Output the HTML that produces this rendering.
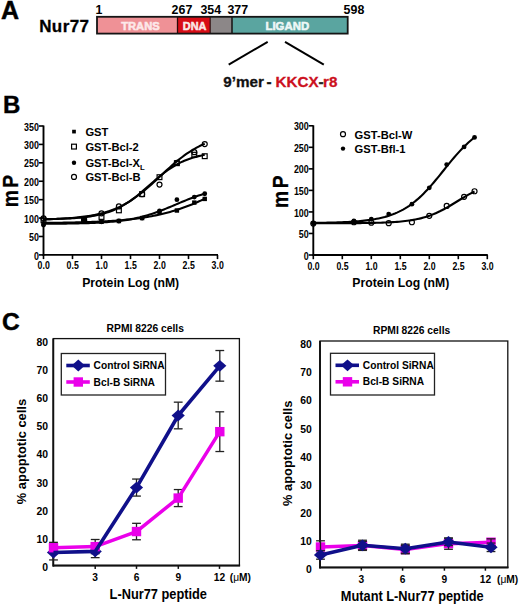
<!DOCTYPE html>
<html><head><meta charset="utf-8"><style>
html,body{margin:0;padding:0;background:#fff;}
svg{display:block;}
text{font-family:"Liberation Sans", sans-serif;}
</style></head><body>
<svg width="520" height="607" viewBox="0 0 520 607">
<rect width="520" height="607" fill="#fff"/>
<text x="0.90" y="19.30" font-size="25.0" fill="#000" text-anchor="start" font-weight="bold" stroke="#000" stroke-width="0.45">A</text>
<text x="39.20" y="32.20" font-size="17.0" fill="#000" text-anchor="start" font-weight="bold" letter-spacing="0.4" stroke="#000" stroke-width="0.3">Nur77</text>
<rect x="97.00" y="16.80" width="80.20" height="16.80" fill="#ef9196" stroke="none" stroke-width="1" />
<rect x="177.20" y="16.80" width="33.00" height="16.80" fill="#d80d16" stroke="none" stroke-width="1" />
<rect x="210.20" y="16.80" width="21.80" height="16.80" fill="#8c8788" stroke="none" stroke-width="1" />
<rect x="232.00" y="16.80" width="115.70" height="16.80" fill="#5aa5a0" stroke="none" stroke-width="1" />
<line x1="177.50" y1="16.80" x2="177.50" y2="33.60" stroke="#2a0a0a" stroke-width="1.3" />
<line x1="210.20" y1="16.80" x2="210.20" y2="33.60" stroke="#301010" stroke-width="1.2" />
<line x1="232.00" y1="16.80" x2="232.00" y2="33.60" stroke="#202020" stroke-width="1.7" />
<rect x="97.00" y="16.80" width="250.70" height="16.80" fill="none" stroke="#151515" stroke-width="1.8" />
<text x="121.20" y="29.90" font-size="11.2" fill="#fde8e9" text-anchor="start" font-weight="bold" stroke="#fde8e9" stroke-width="0.55">TRANS</text>
<text x="182.80" y="29.60" font-size="10.9" fill="#fbe9e9" text-anchor="start" font-weight="bold" stroke="#fbe9e9" stroke-width="0.5">DNA</text>
<text x="265.50" y="30.30" font-size="11.4" fill="#eef8f7" text-anchor="start" font-weight="bold" stroke="#eef8f7" stroke-width="0.55">LIGAND</text>
<text x="95.60" y="13.70" font-size="12.4" fill="#000" text-anchor="start" font-weight="bold" >1</text>
<text x="171.60" y="13.70" font-size="12.4" fill="#000" text-anchor="start" font-weight="bold" >267</text>
<text x="200.40" y="13.70" font-size="12.4" fill="#000" text-anchor="start" font-weight="bold" >354</text>
<text x="227.40" y="13.70" font-size="12.4" fill="#000" text-anchor="start" font-weight="bold" >377</text>
<text x="343.60" y="13.70" font-size="12.4" fill="#000" text-anchor="start" font-weight="bold" >598</text>
<line x1="228.70" y1="64.60" x2="267.70" y2="41.90" stroke="#000" stroke-width="2.0" />
<line x1="285.00" y1="41.90" x2="323.80" y2="64.60" stroke="#000" stroke-width="2.0" />
<text y="86.5" font-size="15.2" font-weight="bold" stroke-width="0.3"><tspan x="223.3" fill="#111" stroke="#111" textLength="40.6" lengthAdjust="spacingAndGlyphs">9’mer</tspan><tspan x="266.4" fill="#111" stroke="#111">-</tspan><tspan x="275.6" fill="#cc1020" stroke="#cc1020">KKCX</tspan><tspan x="318.6" fill="#222" stroke="#222">-</tspan><tspan x="323.0" fill="#cc1020" stroke="#cc1020">r8</tspan></text>
<text x="3.00" y="113.40" font-size="24.0" fill="#000" text-anchor="start" font-weight="bold" stroke="#000" stroke-width="0.4">B</text>
<line x1="43.50" y1="125.50" x2="43.50" y2="255.80" stroke="#000" stroke-width="1.9" />
<line x1="42.60" y1="254.90" x2="218.00" y2="254.90" stroke="#000" stroke-width="1.9" />
<line x1="38.90" y1="254.90" x2="43.50" y2="254.90" stroke="#000" stroke-width="1.6" />
<text x="0" y="0" transform="translate(38.90,259.50) scale(0.87,1)" font-size="10.2" fill="#000" text-anchor="end" font-weight="bold" >0</text>
<line x1="38.90" y1="236.49" x2="43.50" y2="236.49" stroke="#000" stroke-width="1.6" />
<text x="0" y="0" transform="translate(38.90,241.09) scale(0.87,1)" font-size="10.2" fill="#000" text-anchor="end" font-weight="bold" >50</text>
<line x1="38.90" y1="218.07" x2="43.50" y2="218.07" stroke="#000" stroke-width="1.6" />
<text x="0" y="0" transform="translate(38.90,222.67) scale(0.87,1)" font-size="10.2" fill="#000" text-anchor="end" font-weight="bold" >100</text>
<line x1="38.90" y1="199.66" x2="43.50" y2="199.66" stroke="#000" stroke-width="1.6" />
<text x="0" y="0" transform="translate(38.90,204.25) scale(0.87,1)" font-size="10.2" fill="#000" text-anchor="end" font-weight="bold" >150</text>
<line x1="38.90" y1="181.24" x2="43.50" y2="181.24" stroke="#000" stroke-width="1.6" />
<text x="0" y="0" transform="translate(38.90,185.84) scale(0.87,1)" font-size="10.2" fill="#000" text-anchor="end" font-weight="bold" >200</text>
<line x1="38.90" y1="162.82" x2="43.50" y2="162.82" stroke="#000" stroke-width="1.6" />
<text x="0" y="0" transform="translate(38.90,167.42) scale(0.87,1)" font-size="10.2" fill="#000" text-anchor="end" font-weight="bold" >250</text>
<line x1="38.90" y1="144.41" x2="43.50" y2="144.41" stroke="#000" stroke-width="1.6" />
<text x="0" y="0" transform="translate(38.90,149.01) scale(0.87,1)" font-size="10.2" fill="#000" text-anchor="end" font-weight="bold" >300</text>
<line x1="38.90" y1="126.00" x2="43.50" y2="126.00" stroke="#000" stroke-width="1.6" />
<text x="0" y="0" transform="translate(38.90,130.59) scale(0.87,1)" font-size="10.2" fill="#000" text-anchor="end" font-weight="bold" >350</text>
<line x1="43.50" y1="254.90" x2="43.50" y2="259.10" stroke="#000" stroke-width="1.6" />
<text x="0" y="0" transform="translate(43.70,269.40) scale(0.85,1)" font-size="10.3" fill="#000" text-anchor="middle" font-weight="bold" >0.0</text>
<line x1="72.50" y1="254.90" x2="72.50" y2="259.10" stroke="#000" stroke-width="1.6" />
<text x="0" y="0" transform="translate(72.70,269.40) scale(0.85,1)" font-size="10.3" fill="#000" text-anchor="middle" font-weight="bold" >0.5</text>
<line x1="101.50" y1="254.90" x2="101.50" y2="259.10" stroke="#000" stroke-width="1.6" />
<text x="0" y="0" transform="translate(101.70,269.40) scale(0.85,1)" font-size="10.3" fill="#000" text-anchor="middle" font-weight="bold" >1.0</text>
<line x1="130.50" y1="254.90" x2="130.50" y2="259.10" stroke="#000" stroke-width="1.6" />
<text x="0" y="0" transform="translate(130.70,269.40) scale(0.85,1)" font-size="10.3" fill="#000" text-anchor="middle" font-weight="bold" >1.5</text>
<line x1="159.50" y1="254.90" x2="159.50" y2="259.10" stroke="#000" stroke-width="1.6" />
<text x="0" y="0" transform="translate(159.70,269.40) scale(0.85,1)" font-size="10.3" fill="#000" text-anchor="middle" font-weight="bold" >2.0</text>
<line x1="188.50" y1="254.90" x2="188.50" y2="259.10" stroke="#000" stroke-width="1.6" />
<text x="0" y="0" transform="translate(188.70,269.40) scale(0.85,1)" font-size="10.3" fill="#000" text-anchor="middle" font-weight="bold" >2.5</text>
<line x1="217.50" y1="254.90" x2="217.50" y2="259.10" stroke="#000" stroke-width="1.6" />
<text x="0" y="0" transform="translate(217.70,269.40) scale(0.85,1)" font-size="10.3" fill="#000" text-anchor="middle" font-weight="bold" >3.0</text>
<polyline points="43.50,222.91 45.54,222.89 47.58,222.87 49.62,222.84 51.66,222.82 53.71,222.80 55.75,222.77 57.79,222.74 59.83,222.71 61.87,222.68 63.91,222.65 65.95,222.61 67.99,222.58 70.03,222.54 72.07,222.49 74.12,222.45 76.16,222.40 78.20,222.35 80.24,222.30 82.28,222.24 84.32,222.18 86.36,222.12 88.40,222.05 90.44,221.98 92.48,221.90 94.53,221.82 96.57,221.74 98.61,221.65 100.65,221.55 102.69,221.45 104.73,221.34 106.77,221.23 108.81,221.10 110.85,220.98 112.89,220.84 114.94,220.70 116.98,220.55 119.02,220.39 121.06,220.22 123.10,220.04 125.14,219.85 127.18,219.65 129.22,219.43 131.26,219.21 133.30,218.98 135.35,218.73 137.39,218.47 139.43,218.19 141.47,217.90 143.51,217.59 145.55,217.27 147.59,216.93 149.63,216.58 151.67,216.20 153.71,215.81 155.76,215.40 157.80,214.97 159.84,214.51 161.88,214.04 163.92,213.55 165.96,213.03 168.00,212.49 170.04,211.93 172.08,211.34 174.12,210.73 176.17,210.10 178.21,209.44 180.25,208.76 182.29,208.05 184.33,207.32 186.37,206.57 188.41,205.79 190.45,204.98 192.49,204.16 194.53,203.31 196.58,202.44 198.62,201.54 200.66,200.63 202.70,199.70 204.74,198.74" fill="none" stroke="#000" stroke-width="2.1" />
<polyline points="43.50,223.76 45.54,223.75 47.58,223.74 49.62,223.73 51.66,223.71 53.71,223.70 55.75,223.68 57.79,223.67 59.83,223.65 61.87,223.63 63.91,223.60 65.95,223.58 67.99,223.55 70.03,223.52 72.07,223.49 74.12,223.45 76.16,223.41 78.20,223.37 80.24,223.32 82.28,223.27 84.32,223.21 86.36,223.15 88.40,223.08 90.44,223.01 92.48,222.93 94.53,222.84 96.57,222.75 98.61,222.65 100.65,222.53 102.69,222.41 104.73,222.28 106.77,222.13 108.81,221.98 110.85,221.81 112.89,221.62 114.94,221.42 116.98,221.21 119.02,220.97 121.06,220.72 123.10,220.45 125.14,220.16 127.18,219.84 129.22,219.50 131.26,219.14 133.30,218.75 135.35,218.33 137.39,217.89 139.43,217.41 141.47,216.91 143.51,216.38 145.55,215.82 147.59,215.23 149.63,214.60 151.67,213.95 153.71,213.27 155.76,212.56 157.80,211.82 159.84,211.06 161.88,210.28 163.92,209.47 165.96,208.65 168.00,207.81 170.04,206.96 172.08,206.10 174.12,205.23 176.17,204.36 178.21,203.50 180.25,202.64 182.29,201.78 184.33,200.94 186.37,200.12 188.41,199.31 190.45,198.52 192.49,197.76 194.53,197.02 196.58,196.30 198.62,195.62 200.66,194.96 202.70,194.34 204.74,193.74" fill="none" stroke="#000" stroke-width="2.1" />
<polyline points="43.50,219.19 45.54,219.16 47.58,219.12 49.62,219.08 51.66,219.04 53.71,218.99 55.75,218.94 57.79,218.88 59.83,218.81 61.87,218.74 63.91,218.66 65.95,218.57 67.99,218.47 70.03,218.35 72.07,218.23 74.12,218.10 76.16,217.95 78.20,217.78 80.24,217.60 82.28,217.39 84.32,217.17 86.36,216.92 88.40,216.65 90.44,216.35 92.48,216.02 94.53,215.65 96.57,215.26 98.61,214.82 100.65,214.34 102.69,213.82 104.73,213.24 106.77,212.62 108.81,211.94 110.85,211.21 112.89,210.41 114.94,209.55 116.98,208.62 119.02,207.63 121.06,206.56 123.10,205.42 125.14,204.21 127.18,202.92 129.22,201.57 131.26,200.14 133.30,198.65 135.35,197.09 137.39,195.48 139.43,193.82 141.47,192.11 143.51,190.36 145.55,188.59 147.59,186.80 149.63,185.00 151.67,183.21 153.71,181.42 155.76,179.66 157.80,177.93 159.84,176.23 161.88,174.59 163.92,172.99 165.96,171.46 168.00,169.99 170.04,168.58 172.08,167.25 174.12,165.99 176.17,164.80 178.21,163.69 180.25,162.65 182.29,161.67 184.33,160.77 186.37,159.93 188.41,159.15 190.45,158.44 192.49,157.78 194.53,157.17 196.58,156.62 198.62,156.11 200.66,155.65 202.70,155.22 204.74,154.84" fill="none" stroke="#000" stroke-width="2.1" />
<polyline points="43.50,219.35 45.54,219.30 47.58,219.24 49.62,219.17 51.66,219.10 53.71,219.03 55.75,218.94 57.79,218.85 59.83,218.76 61.87,218.65 63.91,218.53 65.95,218.41 67.99,218.27 70.03,218.12 72.07,217.96 74.12,217.78 76.16,217.59 78.20,217.38 80.24,217.16 82.28,216.91 84.32,216.65 86.36,216.36 88.40,216.05 90.44,215.71 92.48,215.35 94.53,214.95 96.57,214.53 98.61,214.07 100.65,213.57 102.69,213.04 104.73,212.46 106.77,211.85 108.81,211.18 110.85,210.47 112.89,209.71 114.94,208.90 116.98,208.03 119.02,207.11 121.06,206.12 123.10,205.08 125.14,203.97 127.18,202.81 129.22,201.57 131.26,200.28 133.30,198.92 135.35,197.50 137.39,196.01 139.43,194.47 141.47,192.87 143.51,191.21 145.55,189.50 147.59,187.75 149.63,185.96 151.67,184.13 153.71,182.27 155.76,180.39 157.80,178.49 159.84,176.59 161.88,174.68 163.92,172.78 165.96,170.88 168.00,169.01 170.04,167.17 172.08,165.35 174.12,163.58 176.17,161.85 178.21,160.16 180.25,158.53 182.29,156.96 184.33,155.44 186.37,153.98 188.41,152.59 190.45,151.26 192.49,149.99 194.53,148.79 196.58,147.65 198.62,146.57 200.66,145.55 202.70,144.60 204.74,143.70" fill="none" stroke="#000" stroke-width="2.1" />
<rect x="41.30" y="221.39" width="4.40" height="4.40" fill="#000" stroke="none" stroke-width="1" />
<rect x="81.90" y="218.82" width="4.40" height="4.40" fill="#000" stroke="none" stroke-width="1" />
<rect x="99.30" y="219.55" width="4.40" height="4.40" fill="#000" stroke="none" stroke-width="1" />
<rect x="116.70" y="218.82" width="4.40" height="4.40" fill="#000" stroke="none" stroke-width="1" />
<rect x="139.90" y="215.87" width="4.40" height="4.40" fill="#000" stroke="none" stroke-width="1" />
<rect x="157.30" y="210.35" width="4.40" height="4.40" fill="#000" stroke="none" stroke-width="1" />
<rect x="174.70" y="208.32" width="4.40" height="4.40" fill="#000" stroke="none" stroke-width="1" />
<rect x="192.10" y="200.40" width="4.40" height="4.40" fill="#000" stroke="none" stroke-width="1" />
<rect x="202.54" y="196.72" width="4.40" height="4.40" fill="#000" stroke="none" stroke-width="1" />
<circle cx="43.50" cy="225.07" r="2.4" fill="#000" stroke="none" stroke-width="1"/>
<circle cx="84.10" cy="221.38" r="2.4" fill="#000" stroke="none" stroke-width="1"/>
<circle cx="101.50" cy="221.75" r="2.4" fill="#000" stroke="none" stroke-width="1"/>
<circle cx="118.90" cy="221.02" r="2.4" fill="#000" stroke="none" stroke-width="1"/>
<circle cx="142.10" cy="218.07" r="2.4" fill="#000" stroke="none" stroke-width="1"/>
<circle cx="159.50" cy="210.89" r="2.4" fill="#000" stroke="none" stroke-width="1"/>
<circle cx="176.90" cy="199.66" r="2.4" fill="#000" stroke="none" stroke-width="1"/>
<circle cx="194.30" cy="197.08" r="2.4" fill="#000" stroke="none" stroke-width="1"/>
<circle cx="204.74" cy="193.76" r="2.4" fill="#000" stroke="none" stroke-width="1"/>
<rect x="41.10" y="217.88" width="4.80" height="4.80" fill="none" stroke="#000" stroke-width="1.2" />
<rect x="81.70" y="218.62" width="4.80" height="4.80" fill="none" stroke="#000" stroke-width="1.2" />
<rect x="99.10" y="214.57" width="4.80" height="4.80" fill="none" stroke="#000" stroke-width="1.2" />
<rect x="116.50" y="207.94" width="4.80" height="4.80" fill="none" stroke="#000" stroke-width="1.2" />
<rect x="139.70" y="191.73" width="4.80" height="4.80" fill="none" stroke="#000" stroke-width="1.2" />
<rect x="157.10" y="174.79" width="4.80" height="4.80" fill="none" stroke="#000" stroke-width="1.2" />
<rect x="174.50" y="160.79" width="4.80" height="4.80" fill="none" stroke="#000" stroke-width="1.2" />
<rect x="191.90" y="152.32" width="4.80" height="4.80" fill="none" stroke="#000" stroke-width="1.2" />
<rect x="202.34" y="153.80" width="4.80" height="4.80" fill="none" stroke="#000" stroke-width="1.2" />
<circle cx="43.50" cy="218.44" r="2.5" fill="none" stroke="#000" stroke-width="1.2"/>
<circle cx="84.10" cy="220.28" r="2.5" fill="none" stroke="#000" stroke-width="1.2"/>
<circle cx="101.50" cy="213.28" r="2.5" fill="none" stroke="#000" stroke-width="1.2"/>
<circle cx="118.90" cy="206.43" r="2.5" fill="none" stroke="#000" stroke-width="1.2"/>
<circle cx="142.10" cy="194.13" r="2.5" fill="none" stroke="#000" stroke-width="1.2"/>
<circle cx="159.50" cy="184.55" r="2.5" fill="none" stroke="#000" stroke-width="1.2"/>
<circle cx="176.90" cy="162.82" r="2.5" fill="none" stroke="#000" stroke-width="1.2"/>
<circle cx="194.30" cy="152.14" r="2.5" fill="none" stroke="#000" stroke-width="1.2"/>
<circle cx="204.74" cy="144.04" r="2.5" fill="none" stroke="#000" stroke-width="1.2"/>
<rect x="72.15" y="129.75" width="3.70" height="3.70" fill="#000" stroke="none" stroke-width="1" />
<text x="0" y="0" transform="translate(85.4,136.0) scale(0.965,1)" font-size="11.6" font-weight="bold">GST</text>
<rect x="71.60" y="144.20" width="4.80" height="4.80" fill="none" stroke="#000" stroke-width="1.2" />
<text x="0" y="0" transform="translate(85.4,151.0) scale(0.965,1)" font-size="11.6" font-weight="bold">GST-Bcl-2</text>
<circle cx="74.00" cy="162.80" r="2.2" fill="#000" stroke="none" stroke-width="1"/>
<text x="0" y="0" transform="translate(85.4,167.2) scale(0.965,1)" font-size="11.6" font-weight="bold">GST-Bcl-X<tspan font-size="8" dy="3">L</tspan></text>
<circle cx="74.00" cy="176.90" r="2.5" fill="none" stroke="#000" stroke-width="1.2"/>
<text x="0" y="0" transform="translate(85.4,181.3) scale(0.965,1)" font-size="11.6" font-weight="bold">GST-Bcl-B</text>
<text x="0" y="0" font-size="22.7" font-weight="bold" letter-spacing="2.9" stroke="#000" stroke-width="0.3" transform="translate(17.8,207.25) rotate(-90) scale(0.85,1)">mP</text>
<text x="0" y="0" font-size="13.5" font-weight="bold" transform="translate(82.2,287.0) scale(0.905,1)">Protein Log (nM)</text>
<line x1="313.30" y1="125.29" x2="313.30" y2="255.90" stroke="#000" stroke-width="1.9" />
<line x1="312.40" y1="255.00" x2="487.80" y2="255.00" stroke="#000" stroke-width="1.9" />
<line x1="308.70" y1="255.00" x2="313.30" y2="255.00" stroke="#000" stroke-width="1.6" />
<text x="0" y="0" transform="translate(308.70,259.60) scale(0.87,1)" font-size="10.2" fill="#000" text-anchor="end" font-weight="bold" >0</text>
<line x1="308.70" y1="233.47" x2="313.30" y2="233.47" stroke="#000" stroke-width="1.6" />
<text x="0" y="0" transform="translate(308.70,238.06) scale(0.87,1)" font-size="10.2" fill="#000" text-anchor="end" font-weight="bold" >50</text>
<line x1="308.70" y1="211.93" x2="313.30" y2="211.93" stroke="#000" stroke-width="1.6" />
<text x="0" y="0" transform="translate(308.70,216.53) scale(0.87,1)" font-size="10.2" fill="#000" text-anchor="end" font-weight="bold" >100</text>
<line x1="308.70" y1="190.39" x2="313.30" y2="190.39" stroke="#000" stroke-width="1.6" />
<text x="0" y="0" transform="translate(308.70,194.99) scale(0.87,1)" font-size="10.2" fill="#000" text-anchor="end" font-weight="bold" >150</text>
<line x1="308.70" y1="168.86" x2="313.30" y2="168.86" stroke="#000" stroke-width="1.6" />
<text x="0" y="0" transform="translate(308.70,173.46) scale(0.87,1)" font-size="10.2" fill="#000" text-anchor="end" font-weight="bold" >200</text>
<line x1="308.70" y1="147.32" x2="313.30" y2="147.32" stroke="#000" stroke-width="1.6" />
<text x="0" y="0" transform="translate(308.70,151.92) scale(0.87,1)" font-size="10.2" fill="#000" text-anchor="end" font-weight="bold" >250</text>
<line x1="308.70" y1="125.79" x2="313.30" y2="125.79" stroke="#000" stroke-width="1.6" />
<text x="0" y="0" transform="translate(308.70,130.39) scale(0.87,1)" font-size="10.2" fill="#000" text-anchor="end" font-weight="bold" >300</text>
<line x1="313.30" y1="255.00" x2="313.30" y2="259.20" stroke="#000" stroke-width="1.6" />
<text x="0" y="0" transform="translate(313.50,269.50) scale(0.85,1)" font-size="10.3" fill="#000" text-anchor="middle" font-weight="bold" >0.0</text>
<line x1="342.30" y1="255.00" x2="342.30" y2="259.20" stroke="#000" stroke-width="1.6" />
<text x="0" y="0" transform="translate(342.50,269.50) scale(0.85,1)" font-size="10.3" fill="#000" text-anchor="middle" font-weight="bold" >0.5</text>
<line x1="371.30" y1="255.00" x2="371.30" y2="259.20" stroke="#000" stroke-width="1.6" />
<text x="0" y="0" transform="translate(371.50,269.50) scale(0.85,1)" font-size="10.3" fill="#000" text-anchor="middle" font-weight="bold" >1.0</text>
<line x1="400.30" y1="255.00" x2="400.30" y2="259.20" stroke="#000" stroke-width="1.6" />
<text x="0" y="0" transform="translate(400.50,269.50) scale(0.85,1)" font-size="10.3" fill="#000" text-anchor="middle" font-weight="bold" >1.5</text>
<line x1="429.30" y1="255.00" x2="429.30" y2="259.20" stroke="#000" stroke-width="1.6" />
<text x="0" y="0" transform="translate(429.50,269.50) scale(0.85,1)" font-size="10.3" fill="#000" text-anchor="middle" font-weight="bold" >2.0</text>
<line x1="458.30" y1="255.00" x2="458.30" y2="259.20" stroke="#000" stroke-width="1.6" />
<text x="0" y="0" transform="translate(458.50,269.50) scale(0.85,1)" font-size="10.3" fill="#000" text-anchor="middle" font-weight="bold" >2.5</text>
<line x1="487.30" y1="255.00" x2="487.30" y2="259.20" stroke="#000" stroke-width="1.6" />
<text x="0" y="0" transform="translate(487.50,269.50) scale(0.85,1)" font-size="10.3" fill="#000" text-anchor="middle" font-weight="bold" >3.0</text>
<polyline points="313.30,223.26 315.34,223.26 317.38,223.26 319.42,223.25 321.46,223.25 323.51,223.25 325.55,223.25 327.59,223.24 329.63,223.24 331.67,223.24 333.71,223.23 335.75,223.23 337.79,223.22 339.83,223.21 341.87,223.21 343.92,223.20 345.96,223.19 348.00,223.18 350.04,223.17 352.08,223.16 354.12,223.14 356.16,223.13 358.20,223.11 360.24,223.09 362.28,223.07 364.33,223.04 366.37,223.01 368.41,222.98 370.45,222.95 372.49,222.91 374.53,222.87 376.57,222.82 378.61,222.76 380.65,222.70 382.69,222.63 384.74,222.55 386.78,222.47 388.82,222.37 390.86,222.26 392.90,222.14 394.94,222.01 396.98,221.86 399.02,221.69 401.06,221.51 403.10,221.30 405.15,221.07 407.19,220.82 409.23,220.54 411.27,220.22 413.31,219.88 415.35,219.50 417.39,219.08 419.43,218.63 421.47,218.13 423.51,217.58 425.56,216.98 427.60,216.34 429.64,215.64 431.68,214.88 433.72,214.07 435.76,213.20 437.80,212.28 439.84,211.31 441.88,210.28 443.92,209.20 445.97,208.08 448.01,206.92 450.05,205.73 452.09,204.51 454.13,203.26 456.17,202.01 458.21,200.75 460.25,199.50 462.29,198.26 464.33,197.05 466.38,195.86 468.42,194.70 470.46,193.59 472.50,192.52 474.54,191.51" fill="none" stroke="#000" stroke-width="2.1" />
<polyline points="313.30,222.85 315.34,222.83 317.38,222.81 319.42,222.78 321.46,222.75 323.51,222.72 325.55,222.68 327.59,222.64 329.63,222.60 331.67,222.55 333.71,222.49 335.75,222.44 337.79,222.37 339.83,222.30 341.87,222.22 343.92,222.14 345.96,222.04 348.00,221.94 350.04,221.83 352.08,221.70 354.12,221.57 356.16,221.42 358.20,221.25 360.24,221.07 362.28,220.87 364.33,220.65 366.37,220.41 368.41,220.15 370.45,219.86 372.49,219.55 374.53,219.21 376.57,218.83 378.61,218.42 380.65,217.97 382.69,217.48 384.74,216.95 386.78,216.37 388.82,215.73 390.86,215.05 392.90,214.30 394.94,213.49 396.98,212.62 399.02,211.67 401.06,210.65 403.10,209.55 405.15,208.37 407.19,207.11 409.23,205.76 411.27,204.31 413.31,202.78 415.35,201.15 417.39,199.42 419.43,197.61 421.47,195.69 423.51,193.69 425.56,191.60 427.60,189.43 429.64,187.18 431.68,184.86 433.72,182.48 435.76,180.04 437.80,177.56 439.84,175.05 441.88,172.51 443.92,169.97 445.97,167.42 448.01,164.89 450.05,162.39 452.09,159.92 454.13,157.50 456.17,155.13 458.21,152.83 460.25,150.60 462.29,148.45 464.33,146.39 466.38,144.41 468.42,142.52 470.46,140.73 472.50,139.03 474.54,137.43" fill="none" stroke="#000" stroke-width="2.1" />
<circle cx="313.30" cy="223.56" r="2.5" fill="none" stroke="#000" stroke-width="1.2"/>
<circle cx="353.90" cy="222.27" r="2.5" fill="none" stroke="#000" stroke-width="1.2"/>
<circle cx="371.30" cy="222.70" r="2.5" fill="none" stroke="#000" stroke-width="1.2"/>
<circle cx="388.70" cy="223.13" r="2.5" fill="none" stroke="#000" stroke-width="1.2"/>
<circle cx="411.90" cy="222.27" r="2.5" fill="none" stroke="#000" stroke-width="1.2"/>
<circle cx="429.30" cy="215.81" r="2.5" fill="none" stroke="#000" stroke-width="1.2"/>
<circle cx="446.70" cy="205.90" r="2.5" fill="none" stroke="#000" stroke-width="1.2"/>
<circle cx="464.10" cy="196.86" r="2.5" fill="none" stroke="#000" stroke-width="1.2"/>
<circle cx="474.54" cy="191.26" r="2.5" fill="none" stroke="#000" stroke-width="1.2"/>
<circle cx="313.30" cy="223.13" r="2.4" fill="#000" stroke="none" stroke-width="1"/>
<circle cx="353.90" cy="220.97" r="2.4" fill="#000" stroke="none" stroke-width="1"/>
<circle cx="371.30" cy="219.25" r="2.4" fill="#000" stroke="none" stroke-width="1"/>
<circle cx="388.70" cy="214.08" r="2.4" fill="#000" stroke="none" stroke-width="1"/>
<circle cx="411.90" cy="204.18" r="2.4" fill="#000" stroke="none" stroke-width="1"/>
<circle cx="429.30" cy="187.81" r="2.4" fill="#000" stroke="none" stroke-width="1"/>
<circle cx="446.70" cy="164.55" r="2.4" fill="#000" stroke="none" stroke-width="1"/>
<circle cx="464.10" cy="146.89" r="2.4" fill="#000" stroke="none" stroke-width="1"/>
<circle cx="474.54" cy="137.42" r="2.4" fill="#000" stroke="none" stroke-width="1"/>
<circle cx="343.00" cy="134.20" r="2.5" fill="none" stroke="#000" stroke-width="1.2"/>
<text x="0" y="0" transform="translate(354.6,138.7) scale(0.965,1)" font-size="11.6" font-weight="bold">GST-Bcl-W</text>
<circle cx="343.00" cy="148.60" r="2.2" fill="#000" stroke="none" stroke-width="1"/>
<text x="0" y="0" transform="translate(354.6,153.0) scale(0.965,1)" font-size="11.6" font-weight="bold">GST-Bfl-1</text>
<text x="0" y="0" font-size="22.7" font-weight="bold" letter-spacing="2.9" stroke="#000" stroke-width="0.3" transform="translate(288.2,207.9) rotate(-90) scale(0.85,1)">mP</text>
<text x="0" y="0" font-size="13.5" font-weight="bold" transform="translate(352.3,287.1) scale(0.905,1)">Protein Log (nM)</text>
<text x="2.00" y="330.40" font-size="24.6" fill="#000" text-anchor="start" font-weight="bold" stroke="#000" stroke-width="0.45">C</text>
<rect x="53.30" y="338.60" width="186.10" height="227.00" fill="none" stroke="#111" stroke-width="1.3" />
<line x1="53.30" y1="338.60" x2="53.30" y2="566.60" stroke="#111" stroke-width="1.9" />
<line x1="52.80" y1="565.60" x2="240.10" y2="565.60" stroke="#111" stroke-width="2.0" />
<text x="48.00" y="571.30" font-size="10.4" fill="#000" text-anchor="end" font-weight="bold" >0</text>
<text x="48.00" y="543.08" font-size="10.4" fill="#000" text-anchor="end" font-weight="bold" >10</text>
<text x="48.00" y="514.86" font-size="10.4" fill="#000" text-anchor="end" font-weight="bold" >20</text>
<text x="48.00" y="486.64" font-size="10.4" fill="#000" text-anchor="end" font-weight="bold" >30</text>
<text x="48.00" y="458.42" font-size="10.4" fill="#000" text-anchor="end" font-weight="bold" >40</text>
<text x="48.00" y="430.20" font-size="10.4" fill="#000" text-anchor="end" font-weight="bold" >50</text>
<text x="48.00" y="401.98" font-size="10.4" fill="#000" text-anchor="end" font-weight="bold" >60</text>
<text x="48.00" y="373.76" font-size="10.4" fill="#000" text-anchor="end" font-weight="bold" >70</text>
<text x="48.00" y="345.54" font-size="10.4" fill="#000" text-anchor="end" font-weight="bold" >80</text>
<line x1="95.20" y1="565.60" x2="95.20" y2="568.90" stroke="#111" stroke-width="1.5" />
<text x="95.20" y="580.80" font-size="10.2" fill="#000" text-anchor="middle" font-weight="bold" >3</text>
<line x1="136.50" y1="565.60" x2="136.50" y2="568.90" stroke="#111" stroke-width="1.5" />
<text x="136.50" y="580.80" font-size="10.2" fill="#000" text-anchor="middle" font-weight="bold" >6</text>
<line x1="178.30" y1="565.60" x2="178.30" y2="568.90" stroke="#111" stroke-width="1.5" />
<text x="178.30" y="580.80" font-size="10.2" fill="#000" text-anchor="middle" font-weight="bold" >9</text>
<line x1="219.50" y1="565.60" x2="219.50" y2="568.90" stroke="#111" stroke-width="1.5" />
<text x="219.50" y="580.80" font-size="10.2" fill="#000" text-anchor="middle" font-weight="bold" >12</text>
<text x="229.8" y="580.8" font-size="10.2" font-weight="bold">(<tspan font-weight="normal">μ</tspan>M)</text>
<text x="106.60" y="332.00" font-size="10.3" fill="#000" text-anchor="start" font-weight="bold" >RPMI 8226 cells</text>
<text x="0" y="0" font-size="12.9" font-weight="bold" transform="translate(25.699999999999996,504.20000000000005) rotate(-90)">% apoptotic cells</text>
<text x="0" y="0" font-size="13.8" font-weight="bold" transform="translate(109.6,599.4) scale(0.928,1)">L-Nur77 peptide</text>
<line x1="53.50" y1="542.33" x2="53.50" y2="553.12" stroke="#222" stroke-width="1.3" />
<line x1="49.10" y1="542.33" x2="57.90" y2="542.33" stroke="#222" stroke-width="1.3" />
<line x1="49.10" y1="553.12" x2="57.90" y2="553.12" stroke="#222" stroke-width="1.3" />
<line x1="95.20" y1="539.50" x2="95.20" y2="553.68" stroke="#222" stroke-width="1.3" />
<line x1="90.80" y1="539.50" x2="99.60" y2="539.50" stroke="#222" stroke-width="1.3" />
<line x1="90.80" y1="553.68" x2="99.60" y2="553.68" stroke="#222" stroke-width="1.3" />
<line x1="136.50" y1="523.32" x2="136.50" y2="539.78" stroke="#222" stroke-width="1.3" />
<line x1="132.10" y1="523.32" x2="140.90" y2="523.32" stroke="#222" stroke-width="1.3" />
<line x1="132.10" y1="539.78" x2="140.90" y2="539.78" stroke="#222" stroke-width="1.3" />
<line x1="178.20" y1="489.56" x2="178.20" y2="506.58" stroke="#222" stroke-width="1.3" />
<line x1="173.80" y1="489.56" x2="182.60" y2="489.56" stroke="#222" stroke-width="1.3" />
<line x1="173.80" y1="506.58" x2="182.60" y2="506.58" stroke="#222" stroke-width="1.3" />
<line x1="219.80" y1="411.81" x2="219.80" y2="451.53" stroke="#222" stroke-width="1.3" />
<line x1="215.40" y1="411.81" x2="224.20" y2="411.81" stroke="#222" stroke-width="1.3" />
<line x1="215.40" y1="451.53" x2="224.20" y2="451.53" stroke="#222" stroke-width="1.3" />
<line x1="53.50" y1="545.17" x2="53.50" y2="559.93" stroke="#222" stroke-width="1.3" />
<line x1="49.10" y1="545.17" x2="57.90" y2="545.17" stroke="#222" stroke-width="1.3" />
<line x1="49.10" y1="559.93" x2="57.90" y2="559.93" stroke="#222" stroke-width="1.3" />
<line x1="95.20" y1="545.17" x2="95.20" y2="557.65" stroke="#222" stroke-width="1.3" />
<line x1="90.80" y1="545.17" x2="99.60" y2="545.17" stroke="#222" stroke-width="1.3" />
<line x1="90.80" y1="557.65" x2="99.60" y2="557.65" stroke="#222" stroke-width="1.3" />
<line x1="136.50" y1="479.06" x2="136.50" y2="496.08" stroke="#222" stroke-width="1.3" />
<line x1="132.10" y1="479.06" x2="140.90" y2="479.06" stroke="#222" stroke-width="1.3" />
<line x1="132.10" y1="496.08" x2="140.90" y2="496.08" stroke="#222" stroke-width="1.3" />
<line x1="178.20" y1="402.16" x2="178.20" y2="428.83" stroke="#222" stroke-width="1.3" />
<line x1="173.80" y1="402.16" x2="182.60" y2="402.16" stroke="#222" stroke-width="1.3" />
<line x1="173.80" y1="428.83" x2="182.60" y2="428.83" stroke="#222" stroke-width="1.3" />
<line x1="219.80" y1="350.52" x2="219.80" y2="381.16" stroke="#222" stroke-width="1.3" />
<line x1="215.40" y1="350.52" x2="224.20" y2="350.52" stroke="#222" stroke-width="1.3" />
<line x1="215.40" y1="381.16" x2="224.20" y2="381.16" stroke="#222" stroke-width="1.3" />
<polygon points="53.50,546.65 60.10,552.55 53.50,558.45 46.90,552.55" fill="#10108a" stroke="none" stroke-width="1"/>
<polygon points="95.20,545.51 101.80,551.41 95.20,557.31 88.60,551.41" fill="#10108a" stroke="none" stroke-width="1"/>
<polygon points="136.50,481.67 143.10,487.57 136.50,493.47 129.90,487.57" fill="#10108a" stroke="none" stroke-width="1"/>
<polygon points="178.20,409.60 184.80,415.50 178.20,421.40 171.60,415.50" fill="#10108a" stroke="none" stroke-width="1"/>
<polygon points="219.80,359.94 226.40,365.84 219.80,371.74 213.20,365.84" fill="#10108a" stroke="none" stroke-width="1"/>
<rect x="48.80" y="543.02" width="9.40" height="9.40" fill="#ea00ea" stroke="none" stroke-width="1" />
<rect x="90.50" y="541.89" width="9.40" height="9.40" fill="#ea00ea" stroke="none" stroke-width="1" />
<rect x="131.80" y="526.85" width="9.40" height="9.40" fill="#ea00ea" stroke="none" stroke-width="1" />
<rect x="173.50" y="493.37" width="9.40" height="9.40" fill="#ea00ea" stroke="none" stroke-width="1" />
<rect x="215.10" y="426.97" width="9.40" height="9.40" fill="#ea00ea" stroke="none" stroke-width="1" />
<polyline points="53.50,547.72 95.20,546.59 136.50,531.55 178.20,498.07 219.80,431.67" fill="none" stroke="#ea00ea" stroke-width="3.5" stroke-linejoin="round"/>
<polyline points="53.50,552.55 95.20,551.41 136.50,487.57 178.20,415.50 219.80,365.84" fill="none" stroke="#10108a" stroke-width="3.6" stroke-linejoin="round"/>
<rect x="61.30" y="353.50" width="104.20" height="41.50" fill="#fff" stroke="#222" stroke-width="1.3" />
<line x1="66.30" y1="365.50" x2="89.80" y2="365.50" stroke="#10108a" stroke-width="3.6" />
<polygon points="78.30,359.60 84.90,365.50 78.30,371.40 71.70,365.50" fill="#10108a" stroke="none" stroke-width="1"/>
<line x1="66.30" y1="382.00" x2="89.80" y2="382.00" stroke="#ea00ea" stroke-width="3.6" />
<rect x="73.60" y="377.30" width="9.40" height="9.40" fill="#ea00ea" stroke="none" stroke-width="1" />
<text x="0" y="0" transform="translate(93.60,369.10) scale(0.965,1)" font-size="10.6" fill="#000" text-anchor="start" font-weight="bold" >Control SiRNA</text>
<text x="0" y="0" transform="translate(93.60,385.60) scale(0.965,1)" font-size="10.6" fill="#000" text-anchor="start" font-weight="bold" >Bcl-B SiRNA</text>
<rect x="320.00" y="341.00" width="187.80" height="226.40" fill="none" stroke="#111" stroke-width="1.3" />
<line x1="320.00" y1="341.00" x2="320.00" y2="568.40" stroke="#111" stroke-width="1.9" />
<line x1="319.50" y1="567.40" x2="508.50" y2="567.40" stroke="#111" stroke-width="2.0" />
<text x="311.80" y="573.00" font-size="10.4" fill="#000" text-anchor="end" font-weight="bold" >0</text>
<text x="311.80" y="544.90" font-size="10.4" fill="#000" text-anchor="end" font-weight="bold" >10</text>
<text x="311.80" y="516.80" font-size="10.4" fill="#000" text-anchor="end" font-weight="bold" >20</text>
<text x="311.80" y="488.70" font-size="10.4" fill="#000" text-anchor="end" font-weight="bold" >30</text>
<text x="311.80" y="460.60" font-size="10.4" fill="#000" text-anchor="end" font-weight="bold" >40</text>
<text x="311.80" y="432.50" font-size="10.4" fill="#000" text-anchor="end" font-weight="bold" >50</text>
<text x="311.80" y="404.40" font-size="10.4" fill="#000" text-anchor="end" font-weight="bold" >60</text>
<text x="311.80" y="376.30" font-size="10.4" fill="#000" text-anchor="end" font-weight="bold" >70</text>
<text x="311.80" y="348.20" font-size="10.4" fill="#000" text-anchor="end" font-weight="bold" >80</text>
<line x1="361.30" y1="567.40" x2="361.30" y2="570.70" stroke="#111" stroke-width="1.5" />
<text x="361.30" y="583.20" font-size="10.2" fill="#000" text-anchor="middle" font-weight="bold" >3</text>
<line x1="402.60" y1="567.40" x2="402.60" y2="570.70" stroke="#111" stroke-width="1.5" />
<text x="402.60" y="583.20" font-size="10.2" fill="#000" text-anchor="middle" font-weight="bold" >6</text>
<line x1="444.40" y1="567.40" x2="444.40" y2="570.70" stroke="#111" stroke-width="1.5" />
<text x="444.40" y="583.20" font-size="10.2" fill="#000" text-anchor="middle" font-weight="bold" >9</text>
<line x1="485.40" y1="567.40" x2="485.40" y2="570.70" stroke="#111" stroke-width="1.5" />
<text x="485.40" y="583.20" font-size="10.2" fill="#000" text-anchor="middle" font-weight="bold" >12</text>
<text x="497.0" y="583.2" font-size="10.2" font-weight="bold">(<tspan font-weight="normal">μ</tspan>M)</text>
<text x="373.00" y="333.80" font-size="10.3" fill="#000" text-anchor="start" font-weight="bold" >RPMI 8226 cells</text>
<text x="0" y="0" font-size="12.9" font-weight="bold" transform="translate(292.4,506.0) rotate(-90)">% apoptotic cells</text>
<text x="0" y="0" font-size="13.8" font-weight="bold" transform="translate(340.8,601.2) scale(0.928,1)">Mutant L-Nur77 peptide</text>
<polyline points="320.50,547.02 362.50,545.61 405.30,549.57 448.50,543.63 491.00,542.21" fill="none" stroke="#ea00ea" stroke-width="3.5" stroke-linejoin="round"/>
<rect x="315.80" y="542.32" width="9.40" height="9.40" fill="#ea00ea" stroke="none" stroke-width="1" />
<rect x="357.80" y="540.91" width="9.40" height="9.40" fill="#ea00ea" stroke="none" stroke-width="1" />
<rect x="400.60" y="544.87" width="9.40" height="9.40" fill="#ea00ea" stroke="none" stroke-width="1" />
<rect x="443.80" y="538.93" width="9.40" height="9.40" fill="#ea00ea" stroke="none" stroke-width="1" />
<rect x="486.30" y="537.51" width="9.40" height="9.40" fill="#ea00ea" stroke="none" stroke-width="1" />
<line x1="320.50" y1="540.80" x2="320.50" y2="553.25" stroke="#222" stroke-width="1.3" />
<line x1="316.10" y1="540.80" x2="324.90" y2="540.80" stroke="#222" stroke-width="1.3" />
<line x1="316.10" y1="553.25" x2="324.90" y2="553.25" stroke="#222" stroke-width="1.3" />
<line x1="362.50" y1="541.36" x2="362.50" y2="549.85" stroke="#222" stroke-width="1.3" />
<line x1="358.10" y1="541.36" x2="366.90" y2="541.36" stroke="#222" stroke-width="1.3" />
<line x1="358.10" y1="549.85" x2="366.90" y2="549.85" stroke="#222" stroke-width="1.3" />
<line x1="405.30" y1="545.33" x2="405.30" y2="553.82" stroke="#222" stroke-width="1.3" />
<line x1="400.90" y1="545.33" x2="409.70" y2="545.33" stroke="#222" stroke-width="1.3" />
<line x1="400.90" y1="553.82" x2="409.70" y2="553.82" stroke="#222" stroke-width="1.3" />
<line x1="448.50" y1="537.97" x2="448.50" y2="549.29" stroke="#222" stroke-width="1.3" />
<line x1="444.10" y1="537.97" x2="452.90" y2="537.97" stroke="#222" stroke-width="1.3" />
<line x1="444.10" y1="549.29" x2="452.90" y2="549.29" stroke="#222" stroke-width="1.3" />
<line x1="491.00" y1="538.82" x2="491.00" y2="545.61" stroke="#222" stroke-width="1.3" />
<line x1="486.60" y1="538.82" x2="495.40" y2="538.82" stroke="#222" stroke-width="1.3" />
<line x1="486.60" y1="545.61" x2="495.40" y2="545.61" stroke="#222" stroke-width="1.3" />
<line x1="320.50" y1="550.70" x2="320.50" y2="559.19" stroke="#222" stroke-width="1.3" />
<line x1="316.10" y1="550.70" x2="324.90" y2="550.70" stroke="#222" stroke-width="1.3" />
<line x1="316.10" y1="559.19" x2="324.90" y2="559.19" stroke="#222" stroke-width="1.3" />
<line x1="362.50" y1="540.23" x2="362.50" y2="550.42" stroke="#222" stroke-width="1.3" />
<line x1="358.10" y1="540.23" x2="366.90" y2="540.23" stroke="#222" stroke-width="1.3" />
<line x1="358.10" y1="550.42" x2="366.90" y2="550.42" stroke="#222" stroke-width="1.3" />
<line x1="405.30" y1="544.19" x2="405.30" y2="553.25" stroke="#222" stroke-width="1.3" />
<line x1="400.90" y1="544.19" x2="409.70" y2="544.19" stroke="#222" stroke-width="1.3" />
<line x1="400.90" y1="553.25" x2="409.70" y2="553.25" stroke="#222" stroke-width="1.3" />
<line x1="448.50" y1="538.25" x2="448.50" y2="545.61" stroke="#222" stroke-width="1.3" />
<line x1="444.10" y1="538.25" x2="452.90" y2="538.25" stroke="#222" stroke-width="1.3" />
<line x1="444.10" y1="545.61" x2="452.90" y2="545.61" stroke="#222" stroke-width="1.3" />
<line x1="491.00" y1="543.06" x2="491.00" y2="551.55" stroke="#222" stroke-width="1.3" />
<line x1="486.60" y1="543.06" x2="495.40" y2="543.06" stroke="#222" stroke-width="1.3" />
<line x1="486.60" y1="551.55" x2="495.40" y2="551.55" stroke="#222" stroke-width="1.3" />
<polyline points="320.50,554.95 362.50,545.33 405.30,548.72 448.50,541.93 491.00,547.31" fill="none" stroke="#10108a" stroke-width="3.6" stroke-linejoin="round"/>
<polygon points="320.50,549.05 327.10,554.95 320.50,560.85 313.90,554.95" fill="#10108a" stroke="none" stroke-width="1"/>
<polygon points="362.50,539.43 369.10,545.33 362.50,551.23 355.90,545.33" fill="#10108a" stroke="none" stroke-width="1"/>
<polygon points="405.30,542.82 411.90,548.72 405.30,554.62 398.70,548.72" fill="#10108a" stroke="none" stroke-width="1"/>
<polygon points="448.50,536.03 455.10,541.93 448.50,547.83 441.90,541.93" fill="#10108a" stroke="none" stroke-width="1"/>
<polygon points="491.00,541.41 497.60,547.31 491.00,553.21 484.40,547.31" fill="#10108a" stroke="none" stroke-width="1"/>
<rect x="330.50" y="353.30" width="104.00" height="41.70" fill="#fff" stroke="#222" stroke-width="1.3" />
<line x1="335.50" y1="365.30" x2="359.00" y2="365.30" stroke="#10108a" stroke-width="3.6" />
<polygon points="347.50,359.40 354.10,365.30 347.50,371.20 340.90,365.30" fill="#10108a" stroke="none" stroke-width="1"/>
<line x1="335.50" y1="381.80" x2="359.00" y2="381.80" stroke="#ea00ea" stroke-width="3.6" />
<rect x="342.80" y="377.10" width="9.40" height="9.40" fill="#ea00ea" stroke="none" stroke-width="1" />
<text x="0" y="0" transform="translate(362.80,368.90) scale(0.965,1)" font-size="10.6" fill="#000" text-anchor="start" font-weight="bold" >Control SiRNA</text>
<text x="0" y="0" transform="translate(362.80,385.40) scale(0.965,1)" font-size="10.6" fill="#000" text-anchor="start" font-weight="bold" >Bcl-B SiRNA</text>
</svg></body></html>
